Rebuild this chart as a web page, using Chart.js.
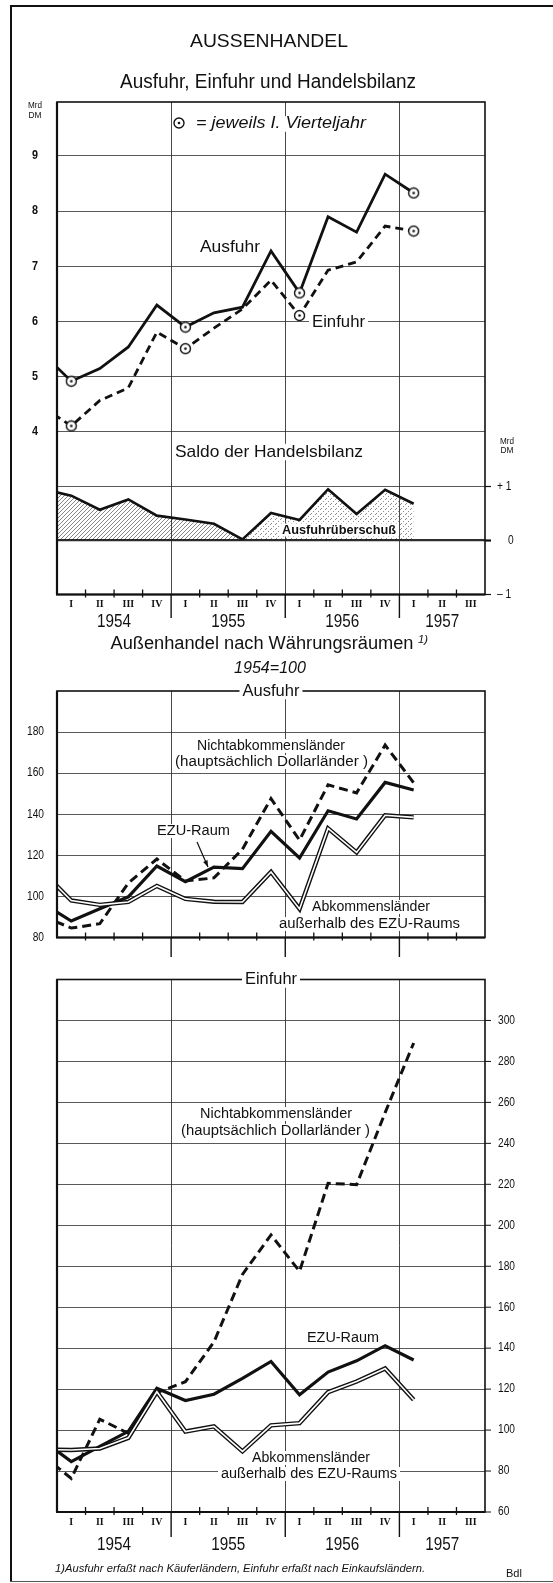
<!DOCTYPE html>
<html lang="de">
<head>
<meta charset="utf-8">
<title>Aussenhandel</title>
<script src="https://cdn.jsdelivr.net/npm/chart.js@4.4.1/dist/chart.umd.min.js"></script>
<style>
  html, body { margin: 0; padding: 0; background: #fff; }
  #page { position: relative; width: 553px; height: 1583px; overflow: hidden; background: #fff; }
  #page canvas { position: absolute; left: 0; }
  .rule-top { position: absolute; left: 10px; right: 0; top: 5px; border-top: 2px solid #111; }
  .rule-left { position: absolute; left: 10px; top: 5px; bottom: 1px; border-left: 2px solid #111; }
  .rule-bottom { position: absolute; left: 10px; right: 0; bottom: 1px; border-top: 1px solid #555; }
</style>
</head>
<body>
<div id="page">
  <div class="rule-top"></div>
  <div class="rule-left"></div>
  <div class="rule-bottom"></div>
  <canvas id="cTop" width="553" height="635" style="top:0"></canvas>
  <canvas id="cMid" width="553" height="325" style="top:635px"></canvas>
  <canvas id="cBot" width="553" height="623" style="top:960px"></canvas>
</div>
<script>
// Quartale: 1953 IV (nur am linken Rand angeschnitten) bis 1957 I
const periods = ['1953 IV', '1954 I', '1954 II', '1954 III', '1954 IV', '1955 I', '1955 II', '1955 III',
                 '1955 IV', '1956 I', '1956 II', '1956 III', '1956 IV', '1957 I'];
const axisQuarters = ['I', 'II', 'III', 'IV', 'I', 'II', 'III', 'IV', 'I', 'II', 'III', 'IV', 'I', 'II', 'III'];
const axisYears = ['1954', '1955', '1956', '1957'];

// Ausfuhr, Einfuhr, Saldo in Mrd DM
const ausfuhr = [5.42, 4.92, 5.15, 5.54, 6.30, 5.90, 6.16, 6.26, 7.28, 6.52, 7.90, 7.62, 8.67, 8.33];
const einfuhr = [4.45, 4.11, 4.57, 4.80, 5.81, 5.51, 5.88, 6.23, 6.75, 6.11, 6.93, 7.08, 7.73, 7.64];
const saldo   = [0.95, 0.83, 0.57, 0.76, 0.46, 0.39, 0.31, 0.02, 0.51, 0.38, 0.95, 0.49, 0.94, 0.68];
const mrdTicks = [4, 5, 6, 7, 8, 9];
const saldoTicks = [-1, 0, 1];
const saldoTickLabels = ['\u2013 1', '0', '+ 1'];

// Außenhandel nach Währungsräumen, 1954 = 100 -- Ausfuhr
const ausEZU   = [96.8, 88.0, 94.0, 99.8, 114.8, 107.2, 114.3, 113.5, 131.7, 118.7, 141.7, 137.7, 155.5, 151.8];
const ausNicht = [90.4, 84.6, 86.7, 106.5, 118.2, 107.5, 109.0, 123.0, 147.6, 127.4, 154.3, 150.4, 173.7, 155.3];
const ausAbk   = [112.0, 98.0, 95.9, 97.3, 105.1, 98.8, 97.4, 97.3, 111.9, 93.9, 133.1, 121.4, 139.5, 138.5];
const ausTicks = [80, 100, 120, 140, 160, 180];

// -- Einfuhr
const einEZU   = [95.0, 84.6, 92.0, 99.4, 120.4, 114.4, 117.5, 125.2, 133.5, 117.2, 128.3, 133.8, 141.2, 134.2];
const einNicht = [87.6, 76.4, 105.3, 98.4, 118.3, 123.6, 143.0, 176.0, 195.3, 177.5, 220.5, 219.8, 255.0, 289.0];
const einAbk   = [90.5, 90.3, 91.0, 96.2, 118.7, 99.3, 101.8, 89.6, 102.3, 103.4, 118.5, 123.7, 130.1, 114.8];
const einTicks = [60, 80, 100, 120, 140, 160, 180, 200, 220, 240, 260, 280, 300];

const SANS = '"Liberation Sans", Arial, sans-serif';
const SERIF = '"Liberation Serif", "DejaVu Serif", serif';
const INK = '#111';
const GRID = '#2e2e2e';

// data point i sits in the middle of its quarter, 1953 IV falls left of the frame
const pts = vals => vals.map((v, i) => ({ x: i - 0.5, y: v }));

function txt(ctx, s, x, y, o) {
    o = o || {};
    const size = o.size || 14;
    ctx.save();
    ctx.font = (o.style || 'normal') + ' ' + (o.weight || 'normal') + ' ' + size + 'px ' + (o.family || SANS);
    ctx.textBaseline = 'middle';
    ctx.textAlign = 'left';
    const m = ctx.measureText(s).width;
    const sx = o.w ? o.w / m : (o.sx || 1);
    const w = m * sx;
    const align = o.align || 'center';
    const x0 = align === 'center' ? x - w / 2 : (align === 'right' ? x - w : x);
    if (o.bg) {
        ctx.fillStyle = '#fff';
        const h = size * 0.85;
        ctx.fillRect(x0 - 3, y - h / 2 - 1, w + 6, h + 2);
    }
    ctx.translate(x0, y);
    ctx.scale(sx, 1);
    ctx.fillStyle = o.color || INK;
    ctx.fillText(s, 0, 0);
    ctx.restore();
}

function ringGlyph(ctx, x, y, r) {
    ctx.save();
    ctx.beginPath();
    ctx.arc(x, y, r, 0, Math.PI * 2);
    ctx.fillStyle = '#fff';
    ctx.fill();
    ctx.lineWidth = 1.4;
    ctx.strokeStyle = INK;
    ctx.stroke();
    ctx.beginPath();
    ctx.arc(x, y, 1.3, 0, Math.PI * 2);
    ctx.fillStyle = INK;
    ctx.fill();
    ctx.restore();
}

function ringImage() {
    const c = document.createElement('canvas');
    c.width = 13; c.height = 13;
    ringGlyph(c.getContext('2d'), 6.5, 6.5, 5);
    return c;
}

function makePattern(kind) {
    const c = document.createElement('canvas');
    const g = c.getContext('2d');
    if (kind === 'hatch') {
        c.width = 4; c.height = 4;
        g.strokeStyle = 'rgba(0,0,0,0.6)';
        g.lineWidth = 0.8;
        g.beginPath();
        g.moveTo(0, 4); g.lineTo(4, 0);
        g.moveTo(-1, 1); g.lineTo(1, -1);
        g.moveTo(3, 5); g.lineTo(5, 3);
        g.stroke();
    } else {
        c.width = 5; c.height = 5;
        g.fillStyle = 'rgba(0,0,0,0.45)';
        g.fillRect(0, 4, 1, 1);
        g.fillRect(1, 3, 1, 1);
        g.fillRect(3, 1, 1, 1);
    }
    return g.createPattern(c, 'repeat');
}

function xScale() {
    return {
        type: 'linear', min: 0, max: 15,
        afterBuildTicks: s => { s.ticks = axisQuarters.map((q, i) => ({ value: i })).concat([{ value: 15 }]); },
        afterFit: s => { s.height = 0; },
        ticks: { display: false },
        border: { display: false },
        grid: {
            drawTicks: false, lineWidth: 0.9,
            color: c => (c.tick && c.tick.value % 4 === 0 && c.tick.value > 0) ? '#333' : 'rgba(0,0,0,0)'
        }
    };
}

function yScale(min, max, ticks, position, widthFn) {
    return {
        position: position, min: min, max: max,
        afterBuildTicks: s => { s.ticks = ticks.map(v => ({ value: v })); },
        afterFit: s => { s.width = 0; },
        ticks: { display: false },
        border: { display: false },
        grid: { drawTicks: false, color: GRID, lineWidth: widthFn || 0.8 }
    };
}

function baseOptions(pad, scales) {
    return {
        responsive: false, animation: false, events: [],
        layout: { padding: pad },
        plugins: { legend: { display: false }, tooltip: { enabled: false } },
        elements: { line: { tension: 0 } },
        scales: scales
    };
}

function frame(chart, title, titleW) {
    const { ctx, chartArea: a } = chart;
    ctx.save();
    ctx.strokeStyle = INK;
    ctx.lineWidth = 1.6;
    ctx.strokeRect(a.left, a.top, a.right - a.left, a.bottom - a.top);
    ctx.lineWidth = 2.2;
    ctx.beginPath();
    ctx.moveTo(a.left - 1, a.bottom);
    ctx.lineTo(a.right, a.bottom);
    ctx.moveTo(a.left, a.top);
    ctx.lineTo(a.left, a.bottom);
    ctx.stroke();
    ctx.restore();
    if (title) txt(ctx, title, (a.left + a.right) / 2, a.top, { size: 17, w: titleW, bg: true });
}

function quarterAxis(chart, o) {
    const { ctx, chartArea: a, scales: { x } } = chart;
    const yb = a.bottom;
    ctx.save();
    ctx.strokeStyle = INK;
    for (let i = 1; i < 15; i++) {
        const px = x.getPixelForValue(i);
        ctx.beginPath();
        if (i % 4 === 0) {
            ctx.lineWidth = 1.4;
            ctx.moveTo(px, yb);
            ctx.lineTo(px, yb + o.yearLine);
        } else {
            ctx.lineWidth = 1.3;
            ctx.moveTo(px, yb - 5);
            ctx.lineTo(px, yb + 3);
        }
        ctx.stroke();
    }
    ctx.restore();
    if (!o.labels) return;
    axisQuarters.forEach((q, i) => {
        txt(ctx, q, x.getPixelForValue(i + 0.5), yb + o.romanDy, { family: SERIF, weight: 'bold', size: 11, sx: 0.9 });
    });
    axisYears.forEach((yr, k) => {
        const mid = (4 * k + Math.min(4 * k + 4, 15)) / 2;
        txt(ctx, yr, x.getPixelForValue(mid), yb + o.yearDy, { size: 18, w: 34 });
    });
}

function arrow(ctx, x1, y1, x2, y2) {
    const ang = Math.atan2(y2 - y1, x2 - x1);
    ctx.save();
    ctx.strokeStyle = INK;
    ctx.fillStyle = INK;
    ctx.lineWidth = 1.2;
    ctx.beginPath();
    ctx.moveTo(x1, y1);
    ctx.lineTo(x2, y2);
    ctx.stroke();
    ctx.beginPath();
    ctx.moveTo(x2, y2);
    ctx.lineTo(x2 - 7 * Math.cos(ang - 0.35), y2 - 7 * Math.sin(ang - 0.35));
    ctx.lineTo(x2 - 7 * Math.cos(ang + 0.35), y2 - 7 * Math.sin(ang + 0.35));
    ctx.closePath();
    ctx.fill();
    ctx.restore();
}

function lineSet(vals, extra) {
    return Object.assign({ data: pts(vals), borderColor: INK, borderWidth: 3, pointRadius: 0, fill: false }, extra);
}

// double line: black outer stroke with a white core on top
function doubleLine(vals) {
    return [
        lineSet(vals, { borderColor: '#fff', borderWidth: 1.6, order: 1 }),
        lineSet(vals, { borderColor: INK, borderWidth: 4.4, order: 5 })
    ];
}

const ring = ringImage();
const hatchFill = makePattern('hatch');
const dotFill = makePattern('dots');
const firstQuarter = vals => vals.map((v, i) => (i % 4 === 1 ? 5 : 0));

// ---------- Ausfuhr, Einfuhr und Handelsbilanz ----------
new Chart(document.getElementById('cTop'), {
    type: 'line',
    data: {
        datasets: [
            lineSet(ausfuhr, { borderWidth: 2.8, pointRadius: firstQuarter(ausfuhr), pointStyle: ring, yAxisID: 'y', order: 1 }),
            lineSet(einfuhr, { borderWidth: 2.8, borderDash: [8, 5], pointRadius: firstQuarter(einfuhr), pointStyle: ring, yAxisID: 'y', order: 2 }),
            lineSet(saldo, {
                borderWidth: 2.6, yAxisID: 'y2', order: 3, fill: 'origin', backgroundColor: hatchFill,
                segment: { backgroundColor: c => (c.p0DataIndex >= 7 ? dotFill : hatchFill) }
            })
        ]
    },
    options: baseOptions({ left: 57, right: 68, top: 102, bottom: 40.5 }, {
        x: xScale(),
        y: yScale(1.056, 9.978, mrdTicks, 'left'),
        y2: yScale(-1, 8.12, [0, 1], 'right', c => (c.tick && c.tick.value === 0 ? 2.2 : 0.8))
    }),
    plugins: [{
        id: 'topDecor',
        beforeDatasetsDraw(chart) {
            const ctx = chart.ctx;
            ringGlyph(ctx, 179, 123, 5);
            txt(ctx, '= jeweils I. Vierteljahr', 281, 124, { size: 16, style: 'italic', w: 170, bg: true });
            txt(ctx, 'Ausfuhr', 230, 247, { size: 17, w: 60, bg: true });
            txt(ctx, 'Einfuhr', 338.5, 322, { size: 17, w: 53, bg: true });
            txt(ctx, 'Saldo der Handelsbilanz', 269, 452, { size: 17, w: 188, bg: true });
        },
        afterDatasetsDraw(chart) {
            const { ctx, chartArea: a, scales: { y, y2 } } = chart;
            frame(chart);
            quarterAxis(chart, { yearLine: 23.5, labels: true, romanDy: 10, yearDy: 28 });
            txt(ctx, 'Ausfuhrüberschuß', 339, 530, { size: 13, weight: 'bold', w: 114, bg: true });
            txt(ctx, 'AUSSENHANDEL', 269, 42, { size: 19, w: 158 });
            txt(ctx, 'Ausfuhr, Einfuhr und Handelsbilanz', 268, 82, { size: 20, w: 296 });
            txt(ctx, 'Mrd', 35, 106, { size: 9, w: 14 });
            txt(ctx, 'DM', 35, 116, { size: 9, w: 13 });
            mrdTicks.forEach(v => txt(ctx, String(v), 38, y.getPixelForValue(v), { size: 12, weight: 'bold', align: 'right', sx: 0.9 }));
            txt(ctx, 'Mrd', 507, 442, { size: 9, w: 14 });
            txt(ctx, 'DM', 507, 451, { size: 9, w: 13 });
            ctx.save();
            ctx.strokeStyle = INK;
            saldoTicks.forEach((v, i) => {
                const py = y2.getPixelForValue(v);
                ctx.lineWidth = v === 0 ? 2.2 : 1.2;
                ctx.beginPath();
                ctx.moveTo(a.right, py);
                ctx.lineTo(a.right + 6, py);
                ctx.stroke();
                txt(ctx, saldoTickLabels[i], v === 0 ? 508 : 497, py, { size: 12, align: 'left', sx: 0.85 });
            });
            ctx.restore();
        }
    }]
});

// ---------- Außenhandel nach Währungsräumen: Ausfuhr ----------
new Chart(document.getElementById('cMid'), {
    type: 'line',
    data: {
        datasets: [
            lineSet(ausEZU, { borderWidth: 3.2, order: 2 }),
            lineSet(ausNicht, { borderWidth: 3, borderDash: [9, 5], order: 3 })
        ].concat(doubleLine(ausAbk))
    },
    options: baseOptions({ left: 57, right: 68, top: 56, bottom: 22.5 }, {
        x: xScale(),
        y: yScale(80, 200, ausTicks, 'left')
    }),
    plugins: [{
        id: 'midDecor',
        beforeDatasetsDraw(chart) {
            const ctx = chart.ctx;
            const T = 635;
            txt(ctx, 'Nichtabkommensländer', 271, 746 - T, { size: 14, w: 148, bg: true });
            txt(ctx, '(hauptsächlich Dollarländer )', 271.5, 762 - T, { size: 14, w: 193, bg: true });
            txt(ctx, 'EZU-Raum', 193.5, 831 - T, { size: 14, w: 73, bg: true });
            txt(ctx, 'Abkommensländer', 371, 907 - T, { size: 14, w: 118, bg: true });
            txt(ctx, 'außerhalb des EZU-Raums', 369.5, 924 - T, { size: 14, w: 181, bg: true });
            arrow(ctx, 197, 842 - T, 208, 867 - T);
        },
        afterDatasetsDraw(chart) {
            const { ctx, scales: { y } } = chart;
            const T = 635;
            frame(chart, 'Ausfuhr', 57);
            quarterAxis(chart, { yearLine: 19.5, labels: false });
            txt(ctx, 'Außenhandel nach Währungsräumen', 262, 644 - T, { size: 18, w: 303 });
            txt(ctx, '1)', 423, 640 - T, { size: 11, style: 'italic', w: 10 });
            txt(ctx, '1954=100', 270, 669 - T, { size: 16, style: 'italic', w: 72 });
            ausTicks.forEach(v => txt(ctx, String(v), 44, y.getPixelForValue(v), { size: 12, align: 'right', sx: 0.85 }));
        }
    }]
});

// ---------- Außenhandel nach Währungsräumen: Einfuhr ----------
new Chart(document.getElementById('cBot'), {
    type: 'line',
    data: {
        datasets: [
            lineSet(einEZU, { borderWidth: 3.2, order: 2 }),
            lineSet(einNicht, { borderWidth: 3, borderDash: [9, 5], order: 3 })
        ].concat(doubleLine(einAbk))
    },
    options: baseOptions({ left: 57, right: 68, top: 19.5, bottom: 71 }, {
        x: xScale(),
        y: yScale(60, 320, einTicks, 'right')
    }),
    plugins: [{
        id: 'botDecor',
        beforeDatasetsDraw(chart) {
            const ctx = chart.ctx;
            const T = 960;
            txt(ctx, 'Nichtabkommensländer', 276, 1114 - T, { size: 14, w: 152, bg: true });
            txt(ctx, '(hauptsächlich Dollarländer )', 275.5, 1131 - T, { size: 14, w: 189, bg: true });
            txt(ctx, 'EZU-Raum', 343, 1338 - T, { size: 14, w: 72, bg: true });
            txt(ctx, 'Abkommensländer', 311, 1458 - T, { size: 14, w: 118, bg: true });
            txt(ctx, 'außerhalb des EZU-Raums', 309, 1474 - T, { size: 14, w: 176, bg: true });
        },
        afterDatasetsDraw(chart) {
            const { ctx, chartArea: a, scales: { y } } = chart;
            const T = 960;
            frame(chart, 'Einfuhr', 52);
            quarterAxis(chart, { yearLine: 25, labels: true, romanDy: 10, yearDy: 33 });
            ctx.save();
            ctx.strokeStyle = INK;
            ctx.lineWidth = 1;
            einTicks.forEach(v => {
                const py = y.getPixelForValue(v);
                ctx.beginPath();
                ctx.moveTo(a.right, py);
                ctx.lineTo(a.right + 6, py);
                ctx.stroke();
                txt(ctx, String(v), 498, py, { size: 12, align: 'left', sx: 0.85 });
            });
            ctx.restore();
            txt(ctx, '1)Ausfuhr erfaßt nach Käuferländern, Einfuhr erfaßt nach Einkaufsländern.', 55, 1569 - T,
                { size: 11, style: 'italic', align: 'left', w: 370 });
            txt(ctx, 'Bdl', 506, 1574 - T, { size: 11, align: 'left' });
        }
    }]
});
</script>
</body>
</html>
